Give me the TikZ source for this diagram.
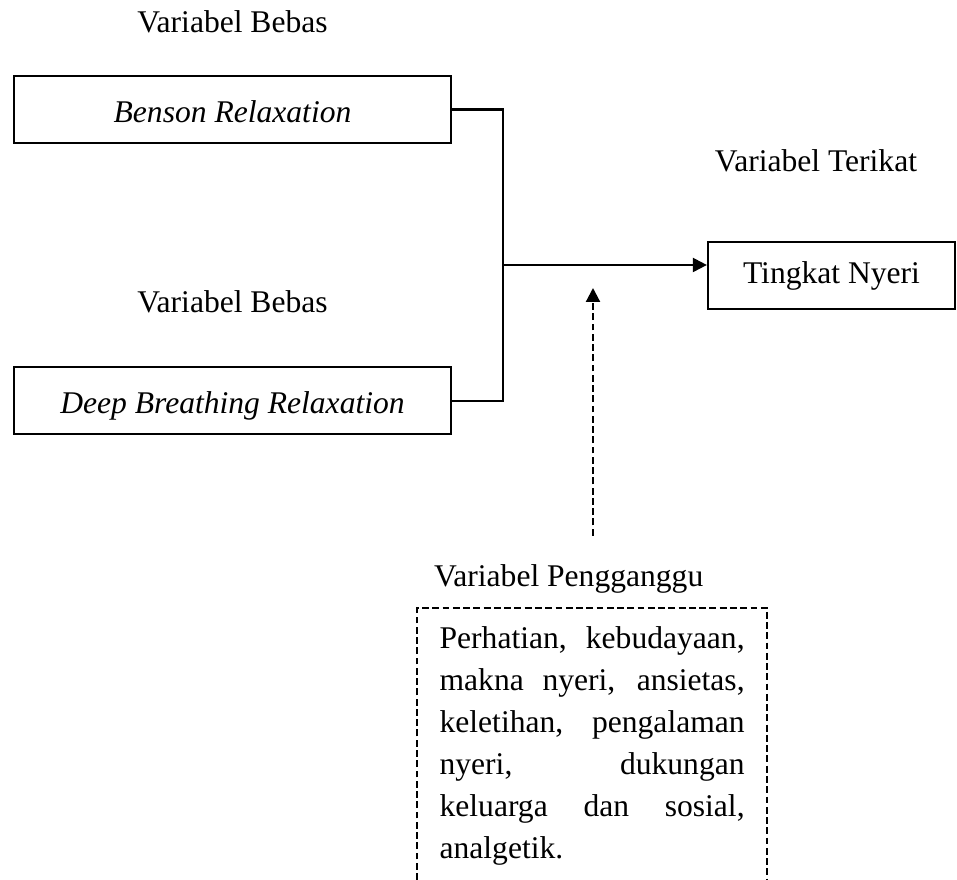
\documentclass[tikz,border=0pt]{standalone}
\usepackage{fontspec}
\setmainfont{Liberation Serif}
\usepackage{tikz}
\usetikzlibrary{positioning, arrows.meta}
\tikzset{
    varbox/.style={rectangle, draw=black, line width=0.8pt, minimum width=166pt, minimum height=25.5pt, text height=10pt, text depth=0pt},
    outbox/.style={rectangle, draw=black, line width=0.8pt, minimum width=93.9pt, minimum height=25.5pt},
    heading/.style={inner sep=4pt},
    confound/.style={text width=115.9pt, align=justify, inner xsep=8.4pt, inner ysep=6.8pt},
    link/.style={line width=0.8pt},
    dashlink/.style={line width=0.8pt, dash pattern=on 2.6pt off 1.3pt},
}

\begin{document}
\begin{tikzpicture}[x=0.38pt, y=-0.38pt,
    every node/.append style={font=\fontsize{12}{16}\selectfont},
    >={Triangle[length=5.3pt, width=5.3pt]}]
    \useasboundingbox (0,0) rectangle (957,880);
    \node [varbox] (benson) at (232.5,109.5) {\textit{Benson Relaxation}};
    \node [varbox] (deep) [below=84.4pt of benson] {\textit{Deep Breathing Relaxation}};
    \node [heading] (bebas1) [above=11.6pt of benson] {Variabel Bebas};
    \node [heading] (bebas2) [above=16pt of deep] {Variabel Bebas};
    \node [outbox] (nyeri) at (831.5,275.5) {Tingkat Nyeri};
    \node [heading] (terikat) [above=22pt of nyeri, xshift=-5.9pt] {Variabel Terikat};
    \node [heading, anchor=base west] (pengganggu) at (423,587) {Variabel Pengganggu};
    \node [confound, anchor=north west] (faktor) at (417,608) {\tolerance=10000 \hyphenpenalty=10000
        Perhatian, kebudayaan,\linebreak
        makna nyeri, ansietas,\linebreak
        keletihan, pengalaman\linebreak
        nyeri, dukungan\linebreak
        keluarga dan sosial,\linebreak
        analgetik.};
    \coordinate (simpul) at (503,265);
    \coordinate (sasaran) at (593,288);
    % garis ke variabel terikat
    \draw [link] (benson.east) -| (simpul);
    \draw [link] (deep.east) -| (simpul);
    \draw [link, ->] (simpul) -- (simpul -| nyeri.west);
    % variabel pengganggu
    \draw [dashlink, ->, shorten <=7pt] (pengganggu.north -| sasaran) -- (sasaran);
    \draw [dashlink] (faktor.south west |- 0,880) -- (faktor.north west) -- (faktor.north east) -- (faktor.south east |- 0,880);
\end{tikzpicture}
\end{document}
